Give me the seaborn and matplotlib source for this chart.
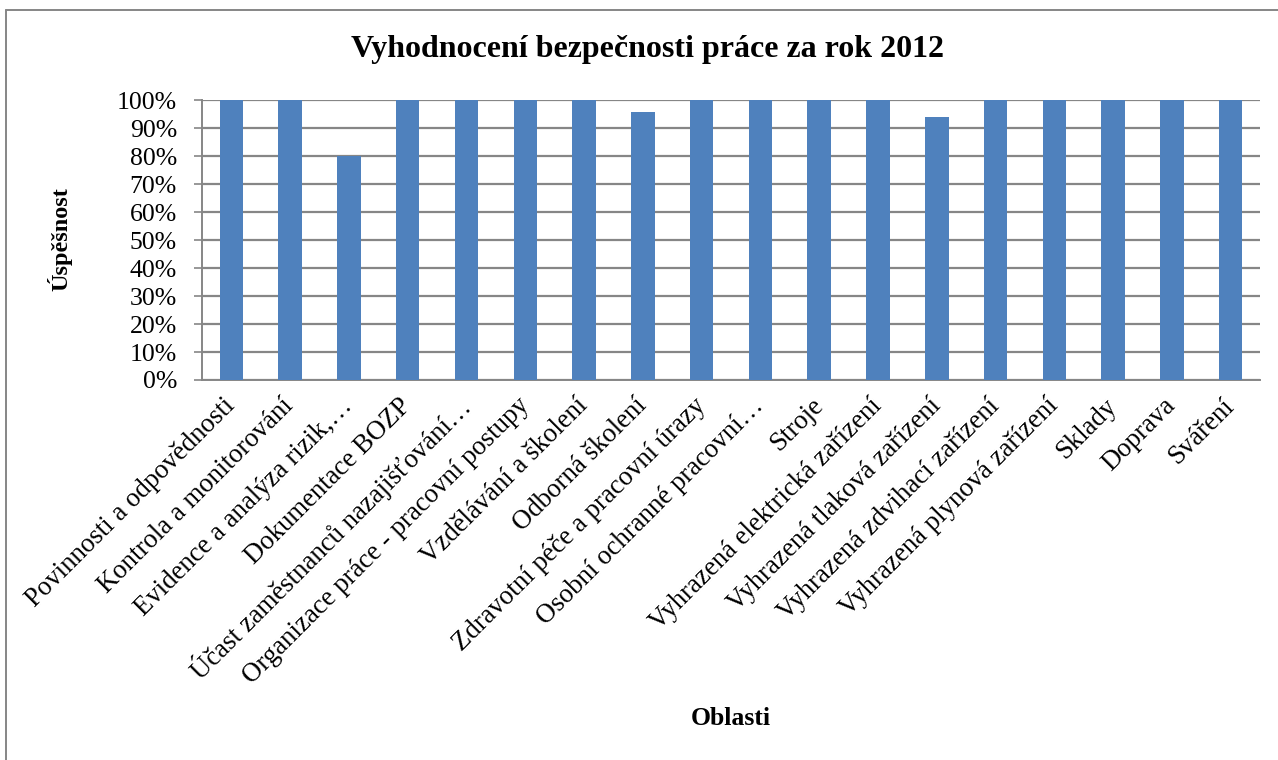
import pandas as pd
import numpy as np
import matplotlib.pyplot as plt
import seaborn as sns
from matplotlib.lines import Line2D

# Chart data
oblasti = [
    "Povinnosti a odpovědnosti",
    "Kontrola a monitorování",
    "Evidence a analýza rizik,…",
    "Dokumentace BOZP",
    "Účast zaměstnanců nazajišťování…",
    "Organizace práce - pracovní postupy",
    "Vzdělávání a školení",
    "Odborná školení",
    "Zdravotní péče a pracovní úrazy",
    "Osobní ochranné pracovní…",
    "Stroje",
    "Vyhrazená elektrická zařízení",
    "Vyhrazená tlaková zařízení",
    "Vyhrazená zdvihací zařízení",
    "Vyhrazená plynová zařízení",
    "Sklady",
    "Doprava",
    "Sváření",
]
uspesnost = [1.00, 1.00, 0.80, 1.00, 1.00, 1.00, 1.00, 0.96, 1.00,
             1.00, 1.00, 1.00, 0.94, 1.00, 1.00, 1.00, 1.00, 1.00]
y_ticks = [0.0, 0.1, 0.2, 0.3, 0.4, 0.5, 0.6, 0.7, 0.8, 0.9, 1.0]
y_labels = ["0%", "10%", "20%", "30%", "40%", "50%", "60%", "70%", "80%", "90%", "100%"]

df = pd.DataFrame({"Oblasti": oblasti, "Uspesnost": uspesnost})

sns.set_style("white")
plt.rcParams['font.family'] = ['Liberation Serif', 'DejaVu Serif']
plt.rcParams['text.color'] = 'black'
plt.rcParams['xtick.color'] = 'black'
plt.rcParams['ytick.color'] = 'black'

fig = plt.figure(figsize=(12.78, 7.6), dpi=100)
ax = fig.add_axes([0.158, 0.5, 0.828, 0.368])

sns.barplot(data=df, x="Oblasti", y="Uspesnost", color="#4F81BD",
            saturation=1, width=0.4, linewidth=0, ax=ax, zorder=3)

ax.set_ylim(0, 1.0)
ax.set_xlim(-0.5, len(oblasti) - 0.5)
ax.set_yticks(y_ticks)
ax.set_yticklabels(y_labels, fontsize=18.5)
ax.yaxis.grid(True, color="#868686", linewidth=1.6, zorder=0)
ax.set_axisbelow(True)

# category labels rotated like Excel
ax.set_xticks(range(len(oblasti)))
ax.set_xticklabels(oblasti, fontsize=19.3, rotation=45, ha="right",
                   va="center", rotation_mode="anchor")
ax.tick_params(axis="x", which="major", length=0, pad=16)
ax.set_xticks(np.arange(-0.5, len(oblasti), 1.0), minor=True)
ax.tick_params(axis="x", which="minor", length=6, width=1.2, color="#868686")
ax.tick_params(axis="y", length=6, width=1.2, color="#868686", labelcolor="black",
               pad=12, left=True)

for s in ["top", "right"]:
    ax.spines[s].set_visible(False)
for s in ["left", "bottom"]:
    ax.spines[s].set_color("#868686")
    ax.spines[s].set_linewidth(1.4)

ax.set_xlabel("")
ax.set_ylabel("")
fig.text(0.507, 0.935, "Vyhodnocení bezpečnosti práce za rok 2012",
         ha="center", va="center", fontsize=23, fontweight="bold")
fig.text(0.572, 0.055, "Oblasti", ha="center", va="center",
         fontsize=18.5, fontweight="bold")
fig.text(0.047, 0.686, "Úspěšnost", ha="center", va="center",
         rotation=90, fontsize=17.5, fontweight="bold")

# outer chart frame
fig.add_artist(Line2D([0.0047, 0.0047], [0.0, 0.987], transform=fig.transFigure,
                      color="#868686", linewidth=1.4))
fig.add_artist(Line2D([0.0047, 1.0], [0.987, 0.987], transform=fig.transFigure,
                      color="#868686", linewidth=1.4))

fig.savefig("out.png", dpi=100)
